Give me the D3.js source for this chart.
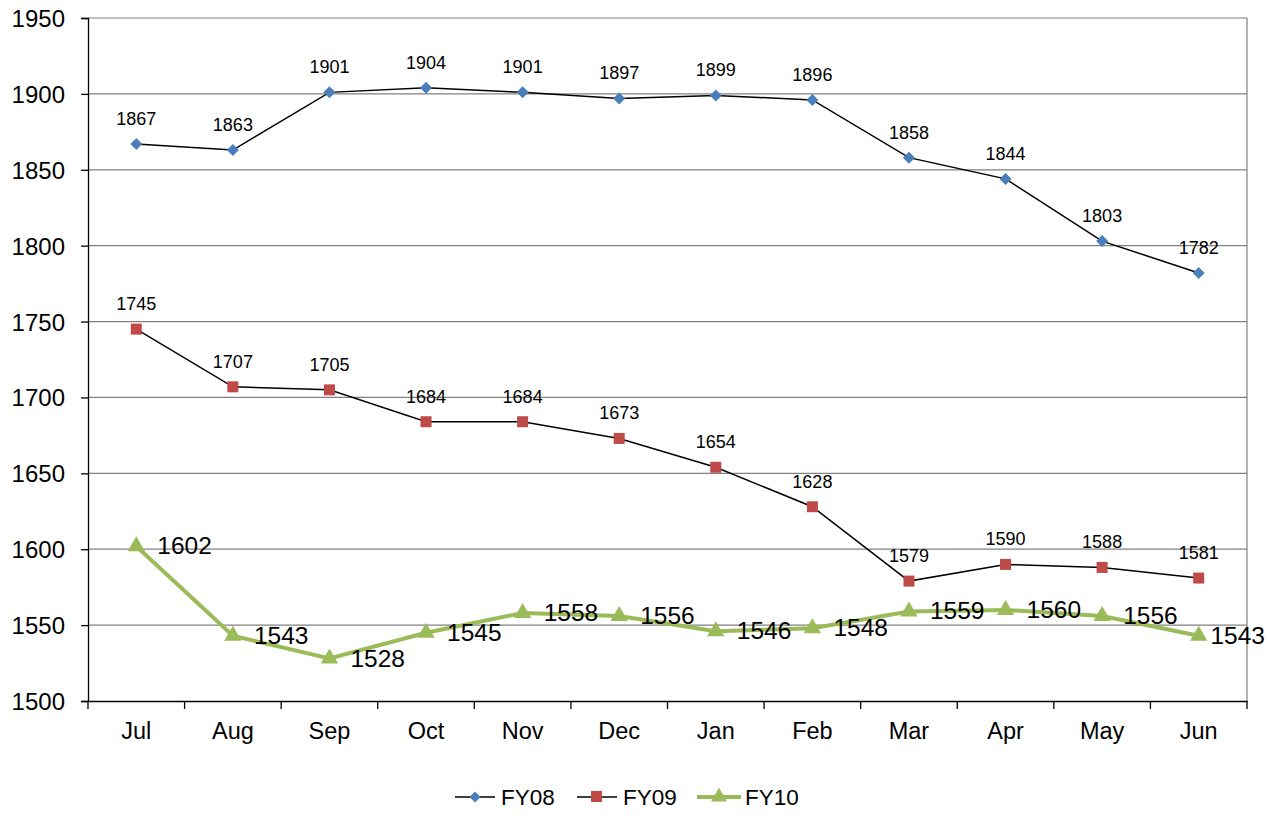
<!DOCTYPE html>
<html><head><meta charset="utf-8">
<script src="https://cdn.jsdelivr.net/npm/d3@7"></script>
<style>body{margin:0;background:#fff}svg{display:block}text{font-family:"Liberation Sans",Arial,sans-serif}</style>
</head><body>
<script>
const months = ["Jul","Aug","Sep","Oct","Nov","Dec","Jan","Feb","Mar","Apr","May","Jun"];
const fy08 = [1867,1863,1901,1904,1901,1897,1899,1896,1858,1844,1803,1782];
const fy09 = [1745,1707,1705,1684,1684,1673,1654,1628,1579,1590,1588,1581];
const fy10 = [1602,1543,1528,1545,1558,1556,1546,1548,1559,1560,1556,1543];
const yTicks = [1500,1550,1600,1650,1700,1750,1800,1850,1900,1950];
const seriesNames = ["FY08","FY09","FY10"];

const W=1270,H=828;
const FF="Liberation Sans, Arial, sans-serif";
const svg=d3.select("body").append("svg").attr("width",W).attr("height",H);
const L=88,R=1247,T=18,B=701;
const x=d3.scaleBand().domain(months).range([L,R]);
const y=d3.scaleLinear().domain([1500,1950]).range([B,T]);

// gridlines
svg.append("g").selectAll("line").data(yTicks.slice(1)).join("line")
  .attr("x1",L).attr("x2",R).attr("y1",d=>y(d)).attr("y2",d=>y(d))
  .attr("stroke","#808080").attr("stroke-width",1.2);
// right border
svg.append("line").attr("x1",R).attr("x2",R).attr("y1",T).attr("y2",B).attr("stroke","#808080").attr("stroke-width",1.2);

// y axis
const ya=svg.append("g").attr("transform",`translate(${L},0)`)
  .call(d3.axisLeft(y).tickValues(yTicks).tickSize(7).tickPadding(16).tickFormat(d3.format("d")));
ya.select(".domain").attr("stroke","#000").attr("stroke-width",1.3);
ya.selectAll(".tick line").attr("stroke","#000").attr("stroke-width",1.3);
ya.selectAll("text").attr("font-size",24).attr("fill","#000").attr("font-family",FF).attr("dy",8.5);

// x axis
const xa=svg.append("g").attr("transform",`translate(0,${B})`)
  .call(d3.axisBottom(x).tickSize(0).tickPadding(19));
xa.select(".domain").attr("stroke","#000").attr("stroke-width",1.3);
xa.selectAll("text").attr("font-size",23.5).attr("fill","#000").attr("font-family",FF).attr("dy",0).attr("y",38);
// category separators
const bounds=months.map(m=>x(m)).concat([R]);
svg.append("g").selectAll("line").data(bounds).join("line")
  .attr("x1",d=>d).attr("x2",d=>d).attr("y1",B).attr("y2",B+8)
  .attr("stroke","#000").attr("stroke-width",1.3);

const cx=m=>x(m)+x.bandwidth()/2;
const line=d3.line().x((d,i)=>cx(months[i])).y(d=>y(d));

// FY08
svg.append("path").datum(fy08).attr("d",line).attr("fill","none").attr("stroke","#000").attr("stroke-width",1.5);
svg.append("g").selectAll("path").data(fy08).join("path")
  .attr("d",d3.symbol(d3.symbolSquare,72))
  .attr("transform",(d,i)=>`translate(${cx(months[i])},${y(d)}) rotate(45)`)
  .attr("fill","#4a7ebb");
svg.append("g").selectAll("text").data(fy08).join("text")
  .attr("x",(d,i)=>cx(months[i])).attr("y",d=>y(d)-19)
  .attr("text-anchor","middle").attr("font-size",18).text(d=>d);

// FY09
svg.append("path").datum(fy09).attr("d",line).attr("fill","none").attr("stroke","#000").attr("stroke-width",1.5);
svg.append("g").selectAll("rect").data(fy09).join("rect")
  .attr("x",(d,i)=>cx(months[i])-5.5).attr("y",d=>y(d)-5.5)
  .attr("width",11).attr("height",11).attr("fill","#be4b48");
svg.append("g").selectAll("text").data(fy09).join("text")
  .attr("x",(d,i)=>cx(months[i])).attr("y",d=>y(d)-19)
  .attr("text-anchor","middle").attr("font-size",18).text(d=>d);

// FY10
svg.append("path").datum(fy10).attr("d",line).attr("fill","none").attr("stroke","#9bbb59").attr("stroke-width",4);
svg.append("g").selectAll("path").data(fy10).join("path")
  .attr("d",d3.symbol(d3.symbolTriangle,130))
  .attr("transform",(d,i)=>`translate(${cx(months[i])},${y(d)})`)
  .attr("fill","#9bbb59");
svg.append("g").selectAll("text").data(fy10).join("text")
  .attr("y",d=>y(d)+8)
  .attr("text-anchor","start").attr("font-size",24.5).text(d=>d)
  .each(function(d,i){
    const w=this.getComputedTextLength();
    d3.select(this).attr("x",Math.min(cx(months[i])+21, W-5-w));
  });

// legend
const lg=svg.append("g");
const lx=[455,577,697];
seriesNames.forEach((n,i)=>{
  const g=lg.append("g").attr("transform",`translate(${lx[i]},797)`);
  if(i<2){
    g.append("line").attr("x1",0).attr("x2",40).attr("stroke","#000").attr("stroke-width",1.5);
  } else {
    g.append("line").attr("x1",0).attr("x2",44).attr("stroke","#9bbb59").attr("stroke-width",4);
  }
  if(i===0) g.append("path").attr("d",d3.symbol(d3.symbolSquare,60)).attr("transform","translate(20,0) rotate(45)").attr("fill","#4a7ebb");
  if(i===1) g.append("rect").attr("x",14).attr("y",-6).attr("width",11).attr("height",11).attr("fill","#be4b48");
  if(i===2) g.append("path").attr("d",d3.symbol(d3.symbolTriangle,110)).attr("transform","translate(22,0)").attr("fill","#9bbb59");
  g.append("text").attr("x",i<2?46:48).attr("y",8).attr("font-size",22.5).text(n);
});
</script>
</body></html>
